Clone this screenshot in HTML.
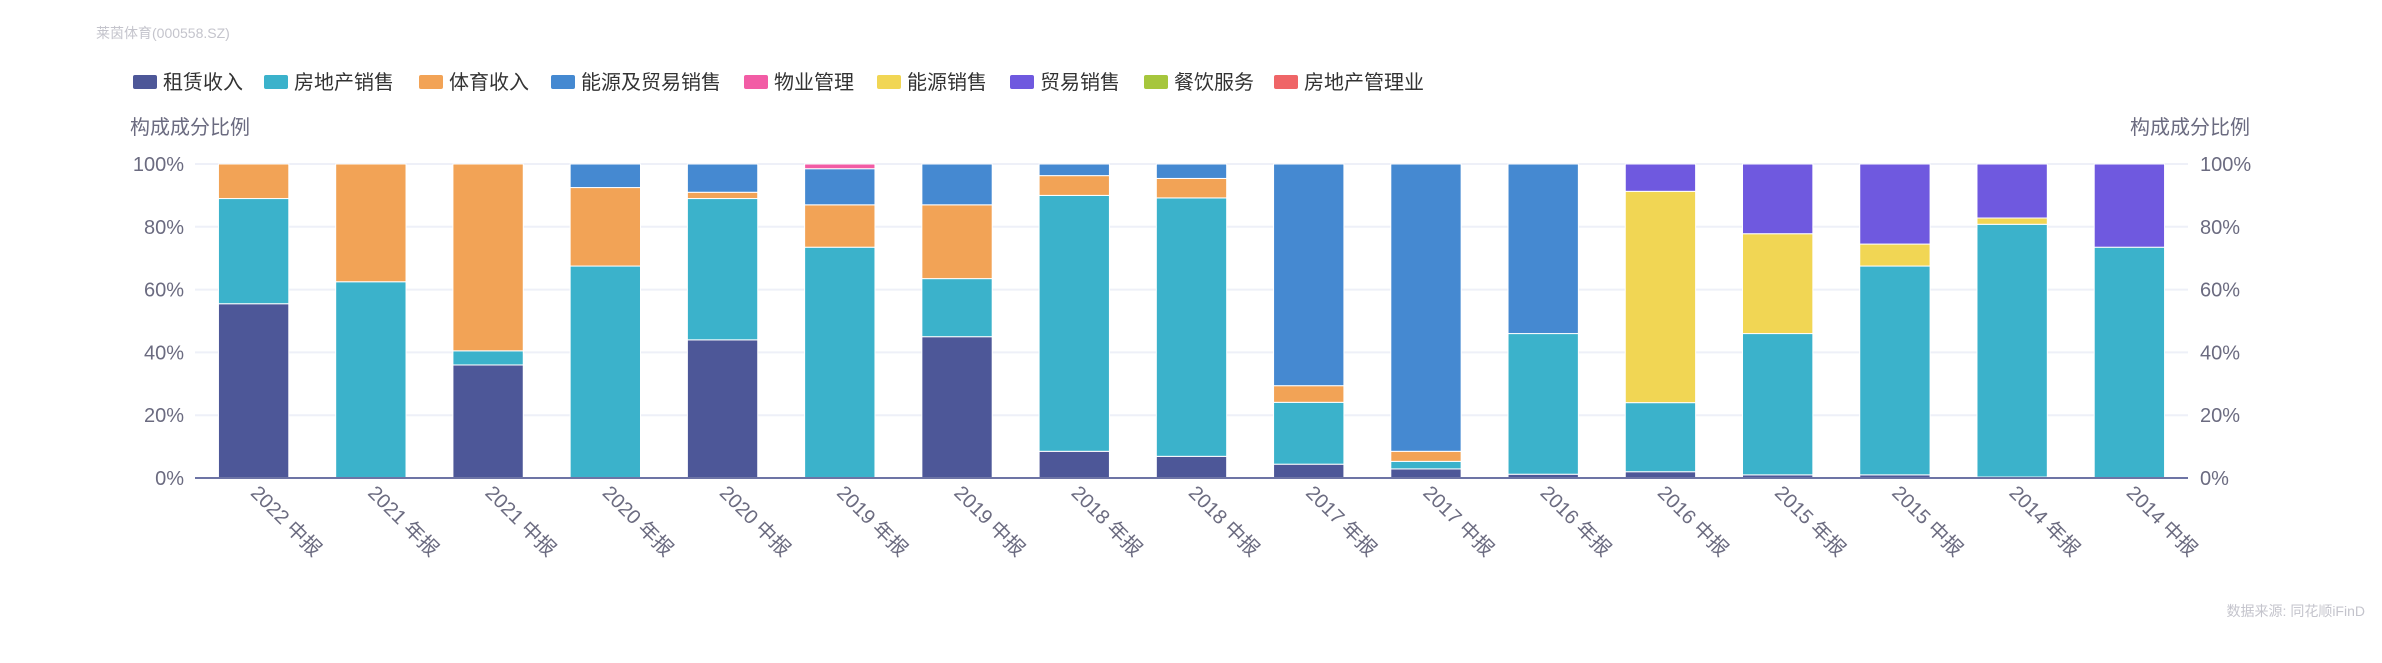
<!DOCTYPE html>
<html><head><meta charset="utf-8">
<style>
html,body{margin:0;padding:0;background:#fff;}
svg{display:block;font-family:"Liberation Sans","Noto Sans CJK SC",sans-serif;}
</style></head>
<body>
<svg id="chart" width="2382" height="663" viewBox="0 0 2382 663" xmlns="http://www.w3.org/2000/svg">
<text x="96" y="38" font-size="14" fill="#c4c4cc">莱茵体育(000558.SZ)</text>
<g id="legend"></g>
<text x="130" y="134" font-size="20" fill="#6b6b80">构成成分比例</text>
<text x="2250" y="134" font-size="20" fill="#6b6b80" text-anchor="end">构成成分比例</text>
<g id="grid"></g>
<g id="bars"></g>
<g id="axes"></g>
<text x="2365" y="616" font-size="14" fill="#c4c4cc" text-anchor="end">数据来源: 同花顺iFinD</text>
</svg>
<script>
const categories = ["2022 中报","2021 年报","2021 中报","2020 年报","2020 中报","2019 年报","2019 中报","2018 年报","2018 中报","2017 年报","2017 中报","2016 年报","2016 中报","2015 年报","2015 中报","2014 年报","2014 中报"];
const seriesNames = ["租赁收入","房地产销售","体育收入","能源及贸易销售","物业管理","能源销售","贸易销售","餐饮服务","房地产管理业"];
const seriesColors = ["#4d5798","#3bb2cb","#f2a356","#4589d1","#f25ca5","#f1d654","#6f59df","#a6c63c","#ef6567"];
const rent     = [55.5,0,36,0,44,0,45,8.5,6.9,4.4,2.9,1.2,2,1,1,0.3,0];
const property = [33.5,62.5,4.5,67.5,45,73.5,18.5,81.5,82.3,19.7,2.4,44.8,22,45,66.5,80.5,73.5];
const sports   = [11,37.5,59.5,25,2,13.5,23.5,6.3,6.2,5.3,3.2,0,0,0,0,0,0];
const energyTrade = [0,0,0,7.5,9,11.5,13,3.7,4.6,70.6,91.5,54,0,0,0,0,0];
const propertyMgmt = [0,0,0,0,0,1.5,0,0,0,0,0,0,0,0,0,0,0];
const energySales = [0,0,0,0,0,0,0,0,0,0,0,0,67.3,31.8,7,2,0];
const tradeSales = [0,0,0,0,0,0,0,0,0,0,0,0,8.7,22.2,25.5,17.2,26.5];
const catering = [0,0,0,0,0,0,0,0,0,0,0,0,0,0,0,0,0];
const propMgmtIndustry = [0,0,0,0,0,0,0,0,0,0,0,0,0,0,0,0,0];
const series = [rent,property,sports,energyTrade,propertyMgmt,energySales,tradeSales,catering,propMgmtIndustry];
const yTicks = [0,20,40,60,80,100];
const legendX = [133,264,419,551,744,877,1010,1144,1274];

const NS="http://www.w3.org/2000/svg";
const X0=195, X1=2188, Y0=478, Y1=164;
const band=(X1-X0)/categories.length;
function xScale(i){return X0+band*i+band/2;}
function yScale(v){return Y0-(Y0-Y1)*v/100;}
function mk(tag,attrs,parent){const e=document.createElementNS(NS,tag);for(const k in attrs)e.setAttribute(k,attrs[k]);parent.appendChild(e);return e;}

const legend=document.getElementById('legend');
seriesNames.forEach((n,i)=>{
  const g=mk('g',{},legend);
  
  
  mk('rect',{x:legendX[i],y:75,width:24,height:14,rx:2,fill:seriesColors[i]},g);
  const t=mk('text',{x:legendX[i]+30,y:89,'font-size':20,fill:'#333'},g);
  t.textContent=n;
});

const grid=document.getElementById('grid');
const axes=document.getElementById('axes');
yTicks.forEach(v=>{
  const y=yScale(v);
  if(v>0){const l=mk('line',{x1:X0,x2:X1,y1:y,y2:y,stroke:'#eef0f8','stroke-width':2},grid);
    
    }
  const tl=mk('text',{x:184,y:y+7,'font-size':20,fill:'#6b6b80','text-anchor':'end'},axes);
  
  
  tl.textContent=v+'%';
  const tr=mk('text',{x:2200,y:y+7,'font-size':20,fill:'#6b6b80'},axes);
  
  
  tr.textContent=v+'%';
});

const bars=document.getElementById('bars');
const bw=band*0.6;
categories.forEach((c,i)=>{
  let acc=0;
  const cx=xScale(i);
  series.forEach((s,k)=>{
    const v=s[i]; if(!v) return;
    const yt=yScale(acc+v), yb=yScale(acc);
    const r=mk('rect',{x:cx-bw/2,y:yt,width:bw,height:yb-yt,fill:seriesColors[k],stroke:'#fff','stroke-width':1},bars);
    
    
    acc+=v;
  });
  const t=mk('text',{x:cx-4,y:Y0+16,'font-size':20,fill:'#6b6b80',transform:`rotate(45 ${cx-4} ${Y0+16})`},axes);
  
  
  t.textContent=c;
});
const ax=mk('line',{x1:X0,x2:X1,y1:Y0,y2:Y0,stroke:'#6d74a5','stroke-width':2},axes);


</script>
</body></html>
